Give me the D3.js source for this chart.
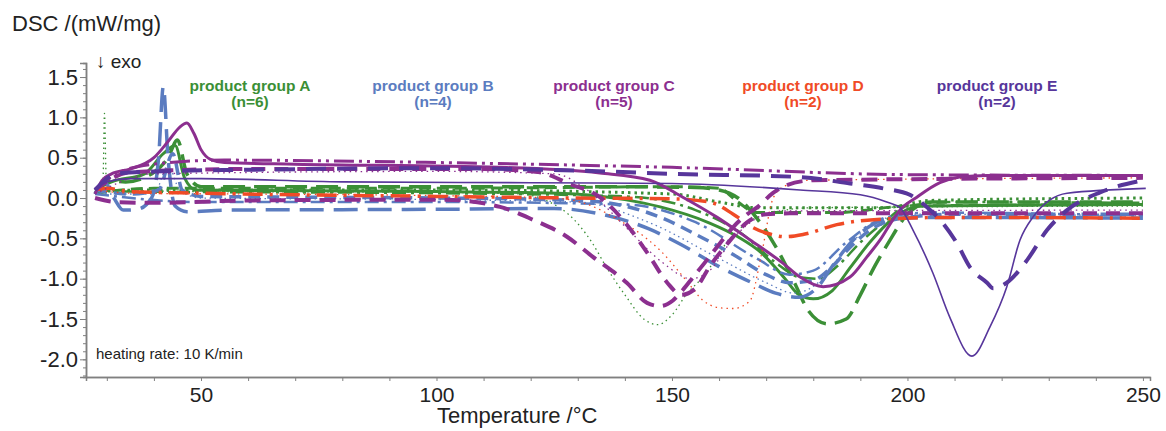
<!DOCTYPE html>
<html>
<head>
<meta charset="utf-8">
<script src="https://cdn.jsdelivr.net/npm/d3@7"></script>
<style>
  body { margin: 0; background: #fff; }
  svg { font-family: "Liberation Sans", Arial, sans-serif; }
</style>
</head>
<body>
<div id="chart"></div>
<script>
// ---- data: [temperature °C, DSC mW/mg] ----
var groups = ["A", "B", "C", "D", "E"];
var groupNames = ["product group A", "product group B", "product group C", "product group D", "product group E"];
var groupCounts = ["(n=6)", "(n=4)", "(n=5)", "(n=2)", "(n=2)"];

// group A (green)
var A1 = [[27.5,0.08],[29.2,0.25],[29.5,1.05],[29.9,0.2],[31,0.1],[50,0.08],[100,0.07],[118,0.05],[124,-0.05],[128,-0.2],[133,-0.55],[136,-0.85],[140,-1.2],[144,-1.5],[147,-1.57],[150,-1.45],[153,-1.2],[157,-0.95],[161,-0.6],[165,-0.35],[170,-0.2],[180,-0.12],[250,-0.1]];
var A2 = [[27.5,0.05],[30,0.22],[34,0.2],[40,0.32],[43,0.5],[45,0.72],[47,0.3],[50,0.14],[100,0.14],[140,0.14],[155,0.13],[160,0.1],[164,0.0],[168,-0.25],[172,-0.6],[176,-1.05],[179,-1.4],[183,-1.56],[187,-1.5],[190,-1.2],[193,-0.85],[196,-0.55],[200,-0.2],[205,-0.05],[250,-0.05]];
var A3 = [[27.5,0.1],[31,0.2],[38,0.3],[42,0.55],[44.5,0.65],[46.5,0.25],[49,0.1],[100,0.08],[126,0.06],[140,-0.02],[147.5,-0.11],[158,-0.31],[164,-0.48],[169,-0.68],[174,-1.0],[177,-1.2],[180,-1.25],[184,-1.15],[188,-0.85],[192,-0.55],[197,-0.25],[203,-0.1],[250,-0.08]];
var A4 = [[27.5,0.1],[35,0.08],[100,0.06],[140,0.02],[155,-0.15],[165,-0.45],[172,-0.8],[177,-0.98],[181,-1.0],[185,-0.85],[190,-0.55],[195,-0.3],[200,-0.1],[210,-0.05],[250,-0.06]];
var A5 = [[27.5,0.08],[40,0.1],[100,0.1],[150,0.05],[160,-0.05],[168,-0.12],[195,-0.12],[205,-0.03],[250,0.0]];
var A6 = [[27.5,0.06],[40,0.12],[100,0.12],[150,0.14],[160,0.12],[164,-0.05],[168,-0.18],[185,-0.18],[200,-0.1],[250,-0.08]];

// group B (blue)
var B1 = [[27.5,0.05],[29.5,0.2],[31.5,0.0],[33.5,-0.15],[36.5,-0.14],[39.5,0.0],[41,0.5],[42,1.38],[43,0.5],[44.5,-0.1],[47,-0.17],[55,-0.15],[100,-0.14],[125,-0.13],[135,-0.2],[145,-0.38],[152,-0.58],[160,-0.85],[167,-1.05],[172,-1.18],[177,-1.23],[181,-1.1],[184,-0.85],[188,-0.55],[192,-0.35],[197,-0.25],[210,-0.24],[250,-0.25]];
var B2 = [[27.5,0.1],[35,0.05],[41,0.1],[44,0.55],[46,0.1],[50,0.02],[100,0.0],[125,-0.02],[135,-0.05],[140,-0.1],[148,-0.25],[155,-0.45],[163,-0.7],[170,-0.95],[175,-1.05],[180,-1.02],[184,-0.85],[188,-0.6],[192,-0.4],[197,-0.27],[210,-0.2],[250,-0.2]];
var B3 = [[27.5,0.05],[40,0.05],[43,0.4],[45.5,0.1],[50,0.0],[100,-0.02],[130,-0.05],[145,-0.3],[160,-0.75],[170,-1.05],[176,-1.18],[181,-1.05],[186,-0.7],[192,-0.35],[200,-0.2],[250,-0.22]];
var B4 = [[27.5,0.05],[50,-0.05],[100,-0.05],[140,-0.08],[155,-0.3],[168,-0.75],[175,-0.95],[180,-0.9],[187,-0.55],[195,-0.25],[205,-0.18],[250,-0.22]];

// group C (purple)
var C1 = [[27.5,0.05],[29,0.22],[31,0.3],[35,0.36],[40,0.5],[43,0.7],[45.5,0.88],[47,0.93],[48.5,0.8],[50,0.6],[52,0.48],[55,0.44],[70,0.42],[113.5,0.38],[134.7,0.31],[145.3,0.22],[152.3,0.01],[159.6,-0.24],[166.6,-0.52],[173.6,-0.81],[177.2,-0.98],[182.1,-1.1],[187.8,-0.98],[191.4,-0.73],[194.2,-0.52],[196.9,-0.27],[198.4,-0.15],[202,0.01],[206.9,0.19],[211.1,0.26],[216.9,0.28],[250,0.28]];
var C2 = [[27.5,0.0],[32,-0.05],[40,-0.06],[60,-0.03],[101.4,-0.02],[113.5,-0.11],[120.5,-0.27],[127.7,-0.48],[133.2,-0.73],[140.4,-1.05],[144.7,-1.3],[147.5,-1.34],[150.2,-1.27],[152.3,-1.14],[154.5,-0.98],[157.4,-0.77],[160.2,-0.56],[163,-0.36],[166,-0.2],[168,-0.12],[171.4,0.06],[174.4,0.16],[180,0.22],[250,0.25]];
var C3 = [[27.5,0.1],[35,0.32],[60,0.36],[110,0.36],[118,0.34],[122.6,0.31],[128,0.18],[134.7,0.01],[140,-0.3],[145,-0.7],[149,-1.05],[152,-1.2],[155,-1.12],[158,-0.85],[162,-0.55],[166,-0.3],[170,-0.2],[175,-0.19],[250,-0.19]];
var C4 = [[27.5,0.1],[32,0.3],[40,0.42],[55,0.47],[100,0.44],[150,0.38],[200,0.29],[250,0.28]];
var C5 = [[27.5,0.05],[40,0.3],[100,0.33],[125,0.3],[132,0.1],[140,-0.35],[148,-0.8],[154,-1.0],[158,-0.9],[163,-0.5],[168,-0.25],[173,-0.16],[250,-0.15]];

// group D (red)
var D1 = [[27.5,0.1],[30,0.12],[35,0.08],[50,0.06],[100,0.02],[130,0.0],[150,-0.01],[158,-0.05],[163,-0.2],[167,-0.36],[171,-0.45],[174,-0.48],[178,-0.45],[185,-0.33],[195,-0.26],[210,-0.24],[250,-0.25]];
var D2 = [[27.5,0.1],[35,0.06],[60,0.05],[100,0.03],[125,0.0],[133,-0.1],[138,-0.25],[143,-0.43],[147.5,-0.65],[153,-1.02],[156.6,-1.27],[160,-1.36],[163,-1.37],[166.5,-1.28],[169,-0.7],[171.5,0.0],[174,0.15],[179,0.22],[250,0.25]];

// group E (dark purple)
var E1 = [[27.5,0.1],[30,0.2],[35,0.24],[50,0.24],[80,0.2],[120,0.19],[150,0.18],[177.2,0.1],[190,0.04],[195.6,-0.05],[198.4,-0.12],[201.2,-0.4],[205.4,-0.93],[209,-1.48],[213.7,-1.96],[217.5,-1.6],[221.1,-1.1],[223.9,-0.52],[226.6,-0.24],[233.9,0.06],[250.6,0.12]];
var E2 = [[27.5,0.1],[32,0.3],[40,0.33],[60,0.35],[100,0.37],[130,0.34],[150,0.3],[177.2,0.26],[187.8,0.18],[194.8,0.12],[200.5,0.04],[204.1,-0.11],[207.5,-0.31],[210.5,-0.56],[213.3,-0.86],[216.9,-1.05],[218.2,-1.12],[221.1,-1.05],[225.4,-0.77],[229.6,-0.4],[233.9,-0.15],[240.9,0.07],[250,0.22]];

var yTicks = [-2.0, -1.5, -1.0, -0.5, 0.0, 0.5, 1.0, 1.5];
var xTicks = [50, 100, 150, 200, 250];

// ---- layout ----
var width = 1166, height = 431;
var colors = {A: "#3b8f36", B: "#5b7cc0", C: "#8c2f8f", D: "#f04b26", E: "#57369b"};

var x = d3.scaleLinear().domain([25.58, 251.5]).range([86, 1150]);
var y = d3.scaleLinear().domain([-2.219, 1.674]).range([377, 63]);

var svg = d3.select("#chart").append("svg").attr("width", width).attr("height", height);

// series table built from the arrays above
var series = [
  {g: "A", d: A1, w: 1.3, dash: "1.5,3.5"},
  {g: "A", d: A5, w: 3, dash: "2.5,4"},
  {g: "A", d: A6, w: 3, dash: "12,6"},
  {g: "A", d: A4, w: 2.5, dash: "14,5,3,5"},
  {g: "A", d: A3, w: 3, dash: null},
  {g: "A", d: A2, w: 3.5, dash: "22,9"},
  {g: "B", d: B3, w: 1.3, dash: "1.5,3.5"},
  {g: "B", d: B4, w: 2.5, dash: "14,5,3,5"},
  {g: "B", d: B2, w: 3.5, dash: "12,7"},
  {g: "B", d: B1, w: 3.5, dash: "24,10"},
  {g: "D", d: D2, w: 1.3, dash: "1.5,4"},
  {g: "D", d: D1, w: 3.5, dash: "20,7,3,7"},
  {g: "C", d: C5, w: 1.3, dash: "1.5,4"},
  {g: "C", d: C4, w: 3, dash: "20,5,3,5,3,5"},
  {g: "C", d: C2, w: 4, dash: "16,9"},
  {g: "C", d: C3, w: 4, dash: "14,9"},
  {g: "C", d: C1, w: 3, dash: null},
  {g: "E", d: E1, w: 1.6, dash: null},
  {g: "E", d: E2, w: 4, dash: "20,11"}
];

var line = d3.line()
  .x(function(d) { return x(d[0]); })
  .y(function(d) { return y(d[1]); })
  .curve(d3.curveMonotoneX);

svg.append("g").selectAll("path")
  .data(series)
  .enter().append("path")
  .attr("d", function(s) { return line(s.d); })
  .attr("fill", "none")
  .attr("stroke", function(s) { return colors[s.g]; })
  .attr("stroke-width", function(s) { return s.w; })
  .attr("stroke-dasharray", function(s) { return s.dash; })
  .attr("stroke-linecap", "butt")
  .attr("stroke-linejoin", "round");

// axes
var axisColor = "#808080";
var yMinor = d3.range(-2.2, 1.65, 0.1).map(function(v) { return Math.round(v * 10) / 10; });
var xMinor = d3.range(30, 251, 10);

var yAxisMinor = svg.append("g").attr("transform", "translate(86,0)")
  .call(d3.axisLeft(y).tickValues(yMinor).tickSize(3).tickFormat(""));
var yAxis = svg.append("g").attr("transform", "translate(86,0)")
  .call(d3.axisLeft(y).tickValues(yTicks).tickSize(6).tickPadding(2)
    .tickFormat(function(d) { return d.toFixed(1); }));
var xAxis = svg.append("g").attr("transform", "translate(0,377)")
  .call(d3.axisBottom(x).tickValues(xMinor).tickSize(4).tickFormat(""));
var xLabels = svg.append("g").attr("transform", "translate(0,377)")
  .call(d3.axisBottom(x).tickValues(xTicks).tickSize(0).tickPadding(10).tickFormat(d3.format("d")));

[yAxisMinor, yAxis, xAxis, xLabels].forEach(function(a) {
  a.selectAll("path.domain").attr("stroke", axisColor).attr("stroke-width", 1.5);
  a.selectAll("line").attr("stroke", axisColor);
  a.selectAll("text").attr("fill", "#222").style("font-size", "22px").style("font-family", "Liberation Sans, Arial, sans-serif");
});
xLabels.selectAll("text").style("font-size", "21px");

// titles
svg.append("text").attr("x", 12).attr("y", 31).attr("fill", "#222")
  .style("font-size", "22px").text("DSC /(mW/mg)");
svg.append("text").attr("x", 437).attr("y", 423).attr("fill", "#222")
  .style("font-size", "22px").text("Temperature /°C");
svg.append("text").attr("x", 96).attr("y", 68).attr("fill", "#222")
  .style("font-size", "19px").text("↓ exo");
svg.append("text").attr("x", 96).attr("y", 359).attr("fill", "#222")
  .style("font-size", "15px").text("heating rate: 10 K/min");

// group labels
var labelX = {A: 250, B: 433, C: 614, D: 803, E: 997};
groups.forEach(function(g, i) {
  var t = svg.append("text").attr("text-anchor", "middle")
    .attr("fill", colors[g]).style("font-weight", "bold").style("font-size", "15.5px");
  t.append("tspan").attr("x", labelX[g]).attr("y", 91).text(groupNames[i]);
  t.append("tspan").attr("x", labelX[g]).attr("y", 107).text(groupCounts[i]);
});
</script>
</body>
</html>
